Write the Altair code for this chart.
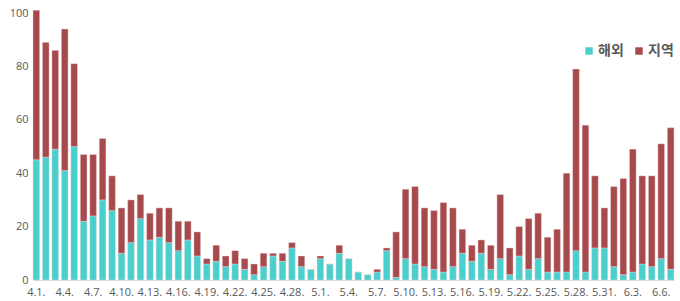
import altair as alt
import pandas as pd

dates = ["4.1.", "4.2.", "4.3.", "4.4.", "4.5.", "4.6.", "4.7.", "4.8.", "4.9.", "4.10.",
         "4.11.", "4.12.", "4.13.", "4.14.", "4.15.", "4.16.", "4.17.", "4.18.", "4.19.", "4.20.",
         "4.21.", "4.22.", "4.23.", "4.24.", "4.25.", "4.26.", "4.27.", "4.28.", "4.29.", "4.30.",
         "5.1.", "5.2.", "5.3.", "5.4.", "5.5.", "5.6.", "5.7.", "5.8.", "5.9.", "5.10.",
         "5.11.", "5.12.", "5.13.", "5.14.", "5.15.", "5.16.", "5.17.", "5.18.", "5.19.", "5.20.",
         "5.21.", "5.22.", "5.23.", "5.24.", "5.25.", "5.26.", "5.27.", "5.28.", "5.29.", "5.30.",
         "5.31.", "6.1.", "6.2.", "6.3.", "6.4.", "6.5.", "6.6.", "6.7."]

total = [101, 89, 86, 94, 81, 47, 47, 53, 39, 27,
         30, 32, 25, 27, 27, 22, 22, 18, 8, 13,
         9, 11, 8, 6, 10, 10, 10, 14, 9, 4,
         9, 6, 13, 8, 3, 2, 4, 12, 18, 34,
         35, 27, 26, 29, 27, 19, 13, 15, 13, 32,
         12, 20, 23, 25, 16, 19, 40, 79, 58, 39,
         27, 35, 38, 49, 39, 39, 51, 57]

imported = [45, 46, 49, 41, 50, 22, 24, 30, 26, 10,
            14, 23, 15, 16, 14, 11, 15, 9, 6, 7,
            5, 6, 4, 2, 5, 9, 7, 12, 5, 4,
            8, 6, 10, 8, 3, 2, 3, 11, 1, 8,
            6, 5, 4, 3, 5, 10, 7, 10, 4, 8,
            2, 9, 4, 8, 3, 3, 3, 11, 3, 12,
            12, 5, 2, 3, 6, 5, 8, 4]

local = [t - i for t, i in zip(total, imported)]

series = ["해외", "지역"]
colors = ["#4ACFCF", "#A64A4D"]

rows = []
for d, im, lo in zip(dates, imported, local):
    rows.append({"date": d, "type": "해외", "value": im, "ord": 0})
    rows.append({"date": d, "type": "지역", "value": lo, "ord": 1})
df = pd.DataFrame(rows)

chart = alt.Chart(df).mark_bar(clip=False, stroke="#f3d6d6", strokeWidth=0.4).encode(
    x=alt.X("date:N", sort=dates, title=None,
            scale=alt.Scale(paddingInner=0.3, paddingOuter=0),
            axis=alt.Axis(values=dates[::3], labelAngle=0, ticks=False,
                          domainColor="#d9d9d9", labelColor="#595959",
                          labelFontSize=11, labelFont="Open Sans", labelPadding=6)),
    y=alt.Y("value:Q", stack="zero", title=None,
            scale=alt.Scale(domain=[0, 100], nice=False),
            axis=alt.Axis(values=[0, 20, 40, 60, 80, 100], grid=False, domain=False,
                          ticks=False, labelColor="#595959", labelFontSize=11,
                          labelFont="Open Sans", labelPadding=5)),
    color=alt.Color("type:N", scale=alt.Scale(domain=series, range=colors),
                    legend=alt.Legend(title=None, orient="none", legendX=549, legendY=31,
                                      direction="horizontal", symbolType="square",
                                      symbolSize=55, symbolStrokeWidth=0,
                                      labelFontSize=14, labelFont="Noto Sans CJK KR",
                                      labelFontWeight="bold",
                                      labelColor="#595959", labelOffset=2,
                                      columnPadding=8)),
    order=alt.Order("ord:Q", sort="ascending"),
).properties(
    width=641, height=267,
    padding={"left": 33, "top": 13, "right": 6, "bottom": 21},
    autosize=alt.AutoSizeParams(type="none"),
).configure_view(stroke=None)

chart.save("out.html", embed_options={"renderer": "svg", "actions": False})
